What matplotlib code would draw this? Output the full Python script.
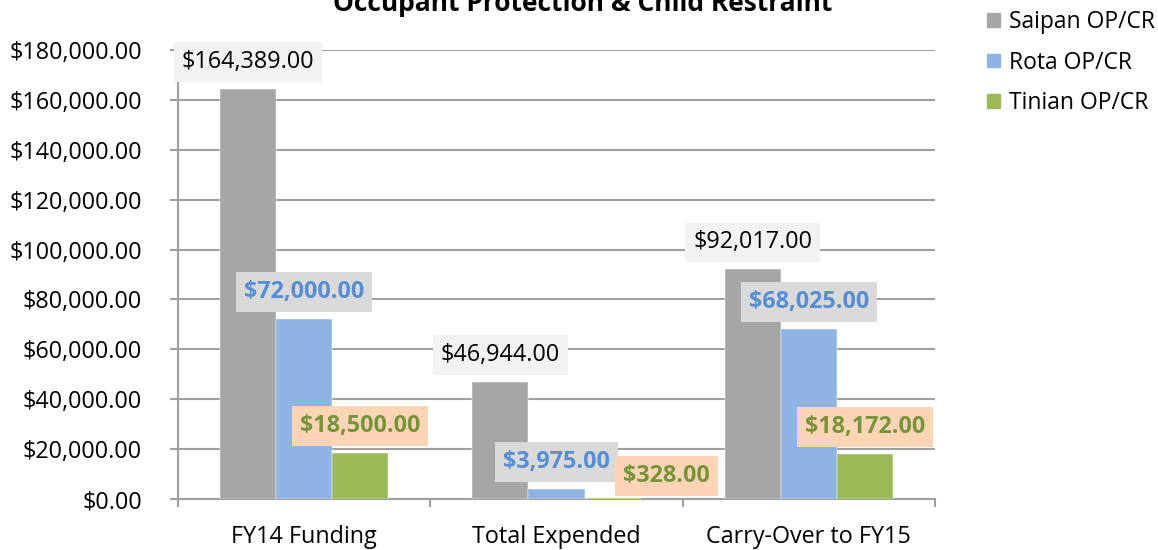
import matplotlib.pyplot as plt
import numpy as np
from matplotlib.patches import Patch
from matplotlib.ticker import FuncFormatter

# chart data
categories = ['FY14 Funding', 'Total Expended', 'Carry-Over to FY15']
series_names = ['Saipan OP/CR', 'Rota OP/CR', 'Tinian OP/CR']
saipan = [164389, 46944, 92017]
rota = [72000, 3975, 68025]
tinian = [18500, 328, 18172]

bar_colors = ['#a6a6a6', '#8eb4e3', '#9bbb59']
label_text = ['black', '#558ed5', '#77933c']
label_bg = ['#f2f2f2', '#d9d9d9', '#fcd5b5']
label_weight = ['normal', 'bold', 'bold']

plt.rcParams['font.family'] = ['Open Sans', 'DejaVu Sans']

fig = plt.figure(figsize=(11.58, 5.5), dpi=100)
ax = fig.add_axes([178 / 1158, 51 / 550, (935 - 178) / 1158, 449 / 550])

x = np.arange(len(categories))
w = 0.222
all_series = [saipan, rota, tinian]
for i, vals in enumerate(all_series):
    xs = x + (i - 1) * w
    ax.bar(xs, vals, width=w, color=bar_colors[i], zorder=3,
           edgecolor='white', linewidth=0.3, label=series_names[i])
    for j, v in enumerate(vals):
        dx, dy = 0, 27
        # Excel moved the tiny $328 label right to dodge the $3,975 one
        if i == 2 and j == 1:
            dx, dy = 54, 22
        ax.annotate(f'${v:,.2f}', (xs[j], v), xytext=(dx, dy),
                    textcoords='offset pixels', ha='center', va='center',
                    fontsize=16.8, color=label_text[i], fontweight=label_weight[i],
                    bbox=dict(boxstyle='square,pad=0.34', fc=label_bg[i], ec='none'),
                    zorder=5)

ax.set_xlim(-0.5, 2.5)
ax.set_ylim(0, 180000)
ax.set_yticks(np.arange(0, 180001, 20000))
ax.yaxis.set_major_formatter(FuncFormatter(lambda v, p: f'${v:,.2f}'))
ax.set_xticks(x)
ax.set_xticklabels(categories)
ax.set_xticks([-0.5, 0.5, 1.5, 2.5], minor=True)
ax.tick_params(axis='x', which='major', length=0, pad=19, labelsize=16.8)
ax.tick_params(axis='x', which='minor', length=6, width=1.5, color='#a0a0a0')
ax.tick_params(axis='y', length=6, width=1.5, color='#a0a0a0', pad=20, labelsize=16.8)

ax.grid(axis='y', color='#a0a0a0', linewidth=1.5, zorder=0)
for s in ['top', 'right']:
    ax.spines[s].set_visible(False)
for s in ['left', 'bottom']:
    ax.spines[s].set_color('#a0a0a0')
    ax.spines[s].set_linewidth(1.5)

fig.text(0.503, 1 - 11 / 550, 'Occupant Protection & Child Restraint',
         ha='center', va='baseline', fontsize=19, fontweight='bold')

handles = [Patch(color=c) for c in bar_colors]
fig.legend(handles, series_names, loc='upper left', bbox_to_anchor=(978 / 1158, 1 - 1 / 550),
           frameon=False, fontsize=16.5, handlelength=0.55, handleheight=0.55,
           handletextpad=0.4, labelspacing=0.72, borderaxespad=0.0)

fig.savefig('out.png', dpi=100)
